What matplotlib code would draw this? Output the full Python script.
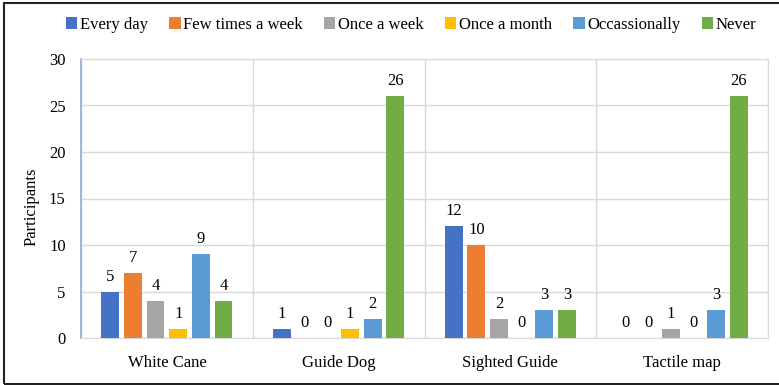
import numpy as np
import matplotlib.pyplot as plt
from matplotlib.patches import Patch, Rectangle

categories = ['White Cane', 'Guide Dog', 'Sighted Guide', 'Tactile map']
series_names = ['Every day', 'Few times a week', 'Once a week',
                'Once a month', 'Occassionally', 'Never']
every_day = [5, 1, 12, 0]
few_times_week = [7, 0, 10, 0]
once_week = [4, 0, 2, 1]
once_month = [1, 1, 0, 0]
occasionally = [9, 2, 3, 3]
never = [4, 26, 3, 26]

series = [every_day, few_times_week, once_week, once_month, occasionally, never]
colors = ['#4472C4', '#ED7D31', '#A5A5A5', '#FFC000', '#5B9BD5', '#70AD47']

plt.rcParams['font.family'] = ['Liberation Serif', 'DejaVu Serif']
plt.rcParams['font.size'] = 12

W, H = 779, 385
fig = plt.figure(figsize=(W / 100, H / 100), dpi=100)
ax = fig.add_axes([81 / W, (H - 338) / H, 687 / W, 279 / H])

x = np.arange(len(categories))
step = 0.132
width = 0.104
for i, (vals, col) in enumerate(zip(series, colors)):
    pos = x + (i - 2.5) * step
    bars = ax.bar(pos, vals, width=width, color=col, zorder=3)
    for b, v in zip(bars, vals):
        ax.annotate(str(v), (b.get_x() + b.get_width() / 2, v),
                    xytext=(0, 5), textcoords='offset points',
                    ha='center', va='bottom', fontsize=12, color='black')

ax.set_xlim(-0.5, len(categories) - 0.5)
ax.set_ylim(0, 30)
ax.set_yticks(range(0, 31, 5))
ax.set_xticks(x)
ax.set_xticklabels(categories)
ax.set_xticks(np.arange(-0.5, len(categories), 1), minor=True)

ax.grid(axis='y', color='#D9D9D9', linewidth=1, zorder=0)
ax.grid(axis='x', which='minor', color='#D9D9D9', linewidth=1, zorder=0)
ax.tick_params(axis='both', which='both', length=0)
ax.tick_params(axis='y', pad=11)
ax.tick_params(axis='x', pad=12)

for side in ['top', 'right']:
    ax.spines[side].set_color('#D9D9D9')
ax.spines['bottom'].set_color('#D9D9D9')
ax.spines['left'].set_color('#8FAADC')
ax.spines['left'].set_linewidth(1.2)

ax.set_ylabel('Participants', fontsize=12)
ax.yaxis.set_label_coords(-0.061, 0.47)

handles = [Patch(facecolor=c, edgecolor='none') for c in colors]
fig.legend(handles, series_names, loc='center', ncol=6,
           bbox_to_anchor=(411 / W, 1 - 25 / H), frameon=False,
           handlelength=0.7, handleheight=0.7, handletextpad=0.15,
           columnspacing=1.27, fontsize=12)

# outer frame around the chart
fig.patches.append(Rectangle((4 / W, 1 / H), 1.0, 1 - 4 / H,
                             transform=fig.transFigure, fill=False,
                             edgecolor='#222222', linewidth=1.5))

fig.savefig('out.png', dpi=100)
